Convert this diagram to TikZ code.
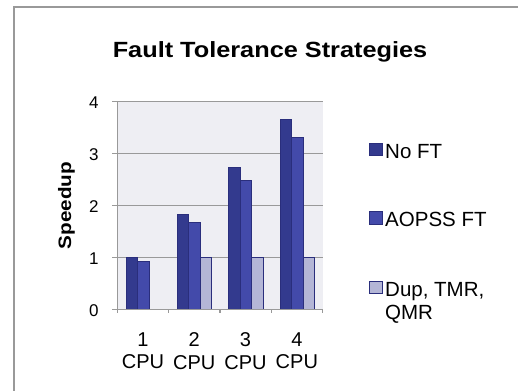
\documentclass[tikz,border=0pt]{standalone}
\usepackage{fontspec}
\setmainfont{Liberation Sans}
\definecolor{noft}{HTML}{333A8E}
\definecolor{aopss}{HTML}{434AAA}
\definecolor{dupft}{HTML}{B4B6D6}
\definecolor{barline}{HTML}{2A2E7C}
\definecolor{plotbg}{HTML}{EEEEF3}
\definecolor{gridgray}{HTML}{999999}
\begin{document}
\begin{tikzpicture}[x=1pt, y=-1pt,
    bar/.style={draw=barline, line width=0.8pt},
    ticklabel/.style={font=\fontsize{17}{17}\selectfont, inner sep=0pt},
    catlabel/.style={font=\fontsize{20}{22.7}\selectfont, align=center, inner sep=0pt},
    legendtext/.style={font=\fontsize{20.5}{23}\selectfont, align=left, inner sep=0pt}]
    \useasboundingbox (0,0) rectangle (518,390);
    % Cornice
    \draw[gridgray, line width=2pt] (14,391) -- (14,7) -- (519,7);
    % Titolo
    \node[font=\bfseries\fontsize{22}{22}\selectfont, anchor=base] (title) at (270,57.5) {\scalebox{1.15}[1]{Fault Tolerance Strategies}};
    % Asse y
    \node[font=\bfseries\fontsize{18}{18}\selectfont, rotate=90] (ylabel) at (66.5,205.5) {\scalebox{1.15}[1]{Speedup}};
    \begin{scope}[shift={(117.3,309.3)}, x=51.3pt, y=51.9pt]
        % Sfondo e griglia
        \fill[plotbg] (0,0) rectangle (4,4);
        \foreach \v in {1,...,4}
            \draw[gridgray, line width=1.3pt] (-0.1,\v) -- (4,\v);
        \foreach \v in {0,...,4}
            \node[ticklabel, anchor=east] (ytick\v) at (-0.36,\v-0.02) {\v};
        % Barre
        \foreach \c/\a/\b/\d in {1/1.00/0.92/0, 2/1.83/1.67/1, 3/2.74/2.49/1, 4/3.65/3.31/1} {
            \filldraw[bar, fill=noft] (\c-0.83,0) rectangle (\c-0.606,\a);
            \filldraw[bar, fill=aopss] (\c-0.606,0) rectangle (\c-0.382,\b);
            \ifnum\d=1
                \filldraw[bar, fill=dupft] (\c-0.382,0) rectangle (\c-0.158,1);
            \fi
            \node[catlabel, anchor=north] (cat\c) at (\c-0.5,-0.44) {\c\\CPU};
        }
        % Assi
        \draw[gridgray, line width=1.3pt] (0,-0.07) -- (0,4);
        \draw[gridgray, line width=1.3pt] (-0.1,0) -- (4,0);
        \foreach \c in {0,...,4}
            \draw[gridgray, line width=1.3pt] (\c,0) -- (\c,-0.08);
    \end{scope}
    % Legenda
    \foreach \n/\col/\y/\txt in {noft/noft/143.3/No FT, aopss/aopss/211.7/AOPSS FT, dup/dupft/281/{Dup, TMR,\\QMR}} {
        \filldraw[bar, fill=\col] (369.5,\y) rectangle ++(12.5,12.5);
        \node[legendtext, anchor=north west] (leg\n) at (385,\y+0.7) {\txt};
    }
\end{tikzpicture}
\end{document}
